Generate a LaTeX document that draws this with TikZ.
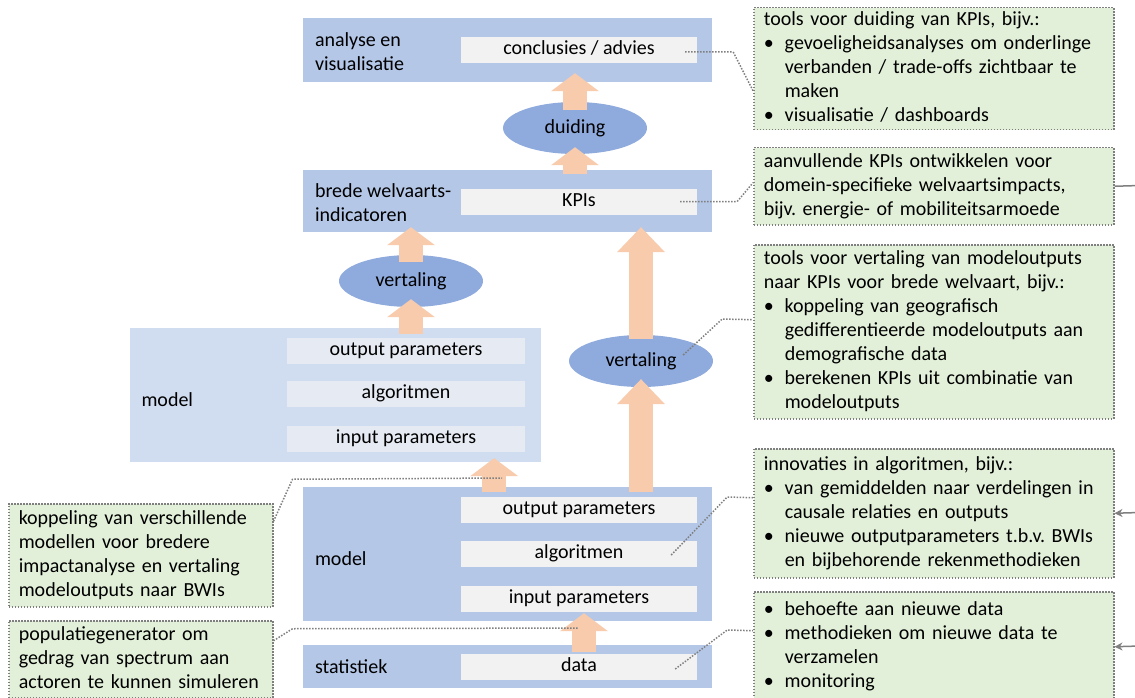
\documentclass[tikz,border=0pt]{standalone}
\usepackage{fontspec}
\setmainfont{Carlito}
\usetikzlibrary{positioning,calc,shapes.geometric,arrows.meta}
\frenchspacing

\definecolor{boxblue}{HTML}{B4C7E7}
\definecolor{paleblue}{HTML}{D0DCEF}
\definecolor{palegray}{HTML}{E5EAF3}
\definecolor{ingray}{HTML}{F2F2F2}
\definecolor{ovalblue}{HTML}{8FAADC}
\definecolor{peach}{HTML}{F8CBAD}
\definecolor{notegreen}{HTML}{E2F0D9}
\definecolor{dotgray}{HTML}{7F7F7F}

\tikzset{
    layer/.style={fill=boxblue, minimum width=409pt, inner sep=0pt},
    inbox/.style={fill=ingray, minimum width=236pt, minimum height=26pt, inner sep=0pt, text height=13pt, text depth=4pt},
    lbl/.style={anchor=west, align=left, inner sep=0pt},
    oval/.style={ellipse, fill=ovalblue, minimum width=144pt, minimum height=52pt, inner sep=0pt},
    fatarrow/.style={draw=peach, line width=24pt, -{Triangle[width=48pt,length=18pt,line width=0pt]}},
    longarrow/.style={draw=peach, line width=24pt, -{Triangle[width=48pt,length=25pt,line width=0pt]}},
    note/.style={anchor=north west, fill=notegreen, draw=dotgray, line width=1.5pt, dash pattern=on 1.5pt off 1.5pt,
        inner xsep=10pt, inner ysep=0pt, align=left, execute at begin node=\strut, execute at end node=\strut},
    dotline/.style={draw=dotgray, line width=1.5pt, dash pattern=on 1.5pt off 1.5pt},
    sideline/.style={draw=dotgray, line width=1.5pt},
}
\newcommand{\bul}{\makebox[21pt][l]{•}}
\newcommand{\ind}{\hspace*{21pt}}

\begin{document}
\begin{tikzpicture}[x=1pt, y=-1pt, font=\fontsize{20}{24}\selectfont]

    % Picture size (pixels of the reference)
    \def\picw{1135}
    \def\pich{698}
    \def\colx{507.5} % centre of the main column
    \def\inx{579}    % centre of the inner boxes
    \def\notex{753}  % left edge of the notes on the right

    \useasboundingbox (0,0) rectangle (\picw,\pich);
    \clip (0,0) rectangle (\picw,\pich);

    % --- Main column ---
    \node[layer, minimum height=64pt] (top) at (\colx,50) {};
    \node[inbox] (concl) at (\inx,50) {conclusies / advies};
    \node[lbl, right=12pt of top.west, yshift=-1.5pt] (lblana) {analyse en\\visualisatie};

    \node[oval] (duid) at (575,128) {duiding};

    \node[layer, minimum height=62pt] (brede) at (\colx,201) {};
    \node[inbox] (kpi) at (\inx,201.5) {KPIs};
    \node[lbl, right=12pt of brede.west, yshift=-1.5pt] (lblbwi) {brede welvaarts-\\indicatoren};

    \node[oval] (vertl) at (411,281) {vertaling};
    \node[oval] (vertr) at (641,361) {vertaling};

    % Upper (coupled) model
    \node[layer, fill=paleblue, minimum width=411pt, minimum height=134pt] (umodel) at (335,395) {};
    \foreach \nm/\txt/\yy in {uout/output parameters/350.5, ualg/algoritmen/394, uin/input parameters/439} {
        \node[inbox, fill=palegray, minimum width=238pt] (\nm) at (406,\yy) {\txt};
    }
    \node[lbl, right=12pt of umodel.west, yshift=-5pt] (lblumod) {model};

    % Lower model
    \node[layer, minimum height=134pt] (lmodel) at (\colx,553.5) {};
    \foreach \nm/\txt/\yy in {mout/output parameters/509.5, malg/algoritmen/553.5, min/input parameters/598.5} {
        \node[inbox] (\nm) at (\inx,\yy) {\txt};
    }
    \node[lbl, right=12pt of lmodel.west, yshift=-5pt] (lbllmod) {model};

    % Statistics
    \node[layer, minimum height=43pt] (stat) at (\colx,666.5) {};
    \node[inbox] (data) at (\inx,666.5) {data};
    \node[lbl, right=12pt of stat.west] (lblstat) {statistiek};

    % --- Fat arrows ---
    \draw[fatarrow] ($(duid.north)+(0,8)$) -- ($(duid.north |- top.south)+(0,-9)$);
    \draw[fatarrow] ($(duid.south |- brede.north)+(0,4)$) -- ($(duid.south)+(0,-7)$);
    \draw[fatarrow] ($(vertl.south |- umodel.north)+(0,6)$) -- ($(vertl.south)+(0,-8)$);
    \draw[fatarrow] ($(vertl.north)+(0,7)$) -- ($(vertl.north |- brede.south)+(0,-5)$);
    \draw[longarrow] ($(vertr.south |- lmodel.north)+(0,6)$) -- ($(vertr.south)+(0,-8)$);
    \draw[longarrow] ($(vertr.north)+(0,4)$) -- ($(vertr.north |- brede.south)+(0,-5)$);
    \draw[fatarrow] ($(lmodel.north -| uin.east)+(-31,6)$) -- ($(umodel.south -| uin.east)+(-31,-4)$);
    \draw[fatarrow] ($(data.north)+(5,-1)$) -- ($(min.south)+(5,1.5)$);

    % --- Notes on the right ---
    \node[note, text width=340pt, minimum height=122pt] (cduid) at (\notex,7) {%
        tools voor duiding van KPIs, bijv.:\\
        \bul gevoeligheidsanalyses om onderlinge\\
        \ind verbanden / trade-offs zichtbaar te\\
        \ind maken\\
        \bul visualisatie / dashboards};
    \node[note, text width=340pt, minimum height=77pt] (ckpi) at (\notex,147) {%
        aanvullende KPIs ontwikkelen voor\\
        domein-specifieke welvaartsimpacts,\\
        bijv. energie- of mobiliteitsarmoede};
    \node[note, text width=340pt, minimum height=174pt] (cvert) at (\notex,244) {%
        tools voor vertaling van modeloutputs\\
        naar KPIs voor brede welvaart, bijv.:\\
        \bul koppeling van geografisch\\
        \ind gedifferentieerde modeloutputs aan\\
        \ind demografische data\\
        \bul berekenen KPIs uit combinatie van\\
        \ind modeloutputs};
    \node[note, text width=340pt, minimum height=129pt] (calg) at (\notex,448) {%
        innovaties in algoritmen, bijv.:\\
        \bul van gemiddelden naar verdelingen in\\
        \ind causale relaties en outputs\\
        \bul nieuwe outputparameters t.b.v. BWIs\\
        \ind en bijbehorende rekenmethodieken};
    \node[note, text width=340pt, minimum height=110pt] (cdata) at (\notex,591) {%
        \bul behoefte aan nieuwe data\\
        \bul methodieken om nieuwe data te\\
        \ind verzamelen\\
        \bul monitoring};

    % --- Notes on the left ---
    \node[note, text width=244pt, minimum height=103pt] (ckop) at (8,503) {%
        koppeling van verschillende\\
        modellen voor bredere\\
        impactanalyse en vertaling\\
        modeloutputs naar BWIs};
    \node[note, text width=244pt, minimum height=77pt] (cpop) at (8,620) {%
        populatiegenerator om\\
        gedrag van spectrum aan\\
        actoren te kunnen simuleren};

    % --- Dotted connectors ---
    \coordinate (kopend) at (502,478);
    \coordinate (popend) at (578,628);
    \draw[dotline] ([xshift=-12pt,yshift=-2pt]concl.east) -- ++(48,0) -- ([yshift=-22pt]cduid.west);
    \draw[dotline] ([xshift=-17pt]kpi.east) -- ++(57,0) -- ([yshift=3.5pt]ckpi.west);
    \draw[dotline] ([xshift=-30pt,yshift=6pt]vertr.east) -- ++(39,-36) -- ([yshift=12pt]cvert.west);
    \draw[dotline] ([xshift=-26pt,yshift=-1.5pt]malg.east) -- ++(56,-58) -- ([yshift=15.5pt]calg.west);
    \draw[dotline] ([xshift=-22pt,yshift=-2.5pt]data.east) -- ++(52,-39) -- ([yshift=16pt]cdata.west);
    \draw[dotline] ([yshift=34pt]ckop.east) -- ++(19,-42) -- (kopend);
    \draw[dotline] ([yshift=18.5pt]cpop.east) -- ++(19,-12) -- (popend);

    % --- Lines leaving the picture on the right ---
    \coordinate (e2) at (1140,185.5);
    \coordinate (e4) at (1140,512.5);
    \coordinate (e5) at (1140,646);
    \draw[sideline] (ckpi.east) -- (e2);
    \draw[sideline, -{Stealth[length=8pt,width=8pt]}] (e4) -- (calg.east);
    \draw[sideline, -{Stealth[length=8pt,width=8pt]}] (e5) -- (cdata.east);

\end{tikzpicture}
\end{document}
